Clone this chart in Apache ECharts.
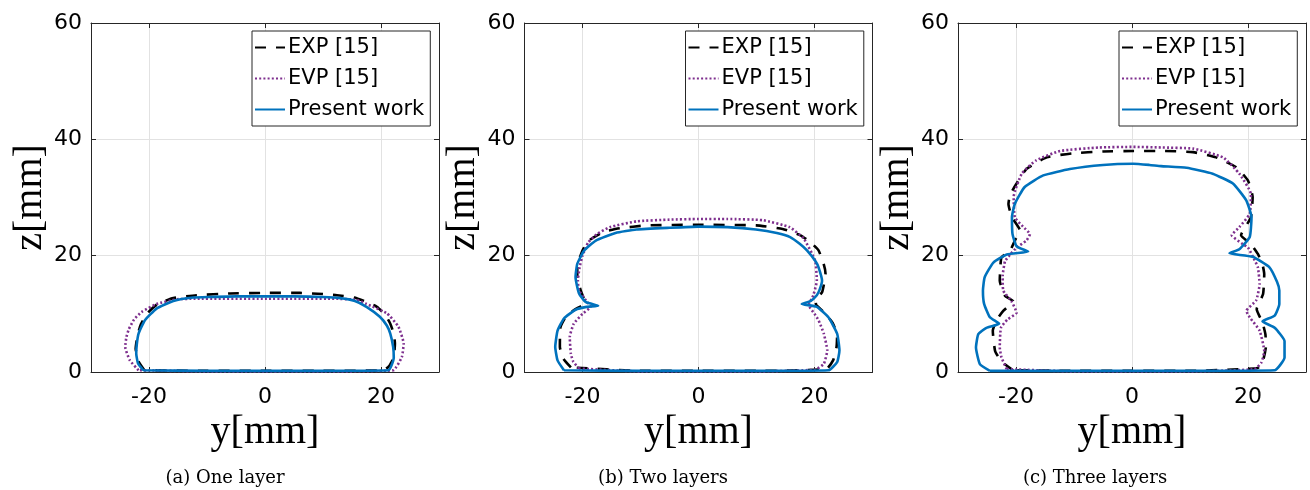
<!DOCTYPE html>
<html>
<head>
<meta charset="utf-8" />
<script src="https://cdn.jsdelivr.net/npm/echarts@6/dist/echarts.min.js"></script>
</head>
<body style="margin:0; background:#fff">
<div id="container" style="width:1310px; height:490px"></div>
<script>
// legend names, captions, ticks
var seriesNames = ['EXP [15]', 'EVP [15]', 'Present work'];
var captions = ['(a) One layer', '(b) Two layers', '(c) Three layers'];
var yTicks = [-20, 0, 20];

// contours [y, z] in mm
var exp1 = [[-20.8,0.3],[-21.8,1.8],[-22.3,4.0],[-22.0,6.2],[-21.4,8.2],[-20.2,10.2],[-18.5,11.7],[-15.8,12.7],[-11.8,13.2],[-6,13.5],[0,13.6],[6,13.6],[10,13.4],[12.4,13.2],[15.8,12.7],[19.3,11.2],[20.8,9.7],[21.6,8.3],[22.2,6.6],[22.4,4.9],[22.2,2.5],[21.4,1.0],[20.4,0.3],[10,0.2],[0,0.2],[-10,0.2],[-20.8,0.3]];
var evp1 = [[-21.8,0.3],[-23.3,2.0],[-24.1,4.3],[-23.9,6.0],[-23.5,7.3],[-22.6,9.0],[-21.3,10.3],[-18.7,11.7],[-15.2,12.5],[-12,12.6],[0,12.6],[12,12.6],[15.8,12.4],[17.5,11.7],[21.0,10.1],[23.0,7.8],[23.9,4.9],[23.6,2.6],[22.1,0.3],[10,0.1],[0,0.1],[-10,0.1],[-21.8,0.3]];
var pw1 = [[-21.0,0.3],[-21.9,1.5],[-22.2,3.2],[-22.1,4.8],[-21.8,6.6],[-20.7,8.9],[-18.7,10.9],[-15.8,12.2],[-12.4,12.8],[-9.5,12.9],[-5,13.0],[0,13.0],[5,13.0],[10,12.9],[13,12.7],[15.5,12.2],[17.5,11.2],[19.8,9.5],[21.0,8.0],[21.6,6.6],[22.1,4.3],[22.2,2.5],[21.8,1.1],[21.3,0.3],[10,0.2],[0,0.2],[-10,0.2],[-21.0,0.3]];

var exp2 = [[-22.0,0.8],[-23.3,2.3],[-23.9,4.3],[-23.8,7.7],[-22.8,9.6],[-21.2,10.8],[-19.6,11.8],[-19.8,12.7],[-20.3,14.0],[-20.9,16.5],[-20.9,18.1],[-20.0,20.9],[-18.9,22.6],[-16.3,24.1],[-13.6,24.7],[-9,25.2],[0,25.3],[9.9,25.2],[14.5,24.6],[17.6,23.5],[19.3,22.3],[20.7,20.9],[21.6,18.5],[21.9,16.9],[21.3,13.7],[20.2,12.3],[20.3,11.5],[21.6,10.3],[23.1,8.5],[23.9,6.3],[23.8,4.3],[23.2,2.0],[22.0,0.5],[10,0.2],[0,0.2],[-10,0.2],[-22.0,0.8]];
var evp2 = [[-20.6,0.6],[-21.6,1.8],[-22.0,3.1],[-22.2,6.0],[-21.5,8.3],[-20.0,10.0],[-18.6,11.2],[-19.4,12.3],[-20.6,14.0],[-20.8,15.7],[-20.5,18.0],[-20.0,20.0],[-19.0,22.3],[-17.5,23.7],[-15.3,24.9],[-10.7,25.9],[-5,26.2],[0,26.3],[5,26.3],[11.1,26.1],[15.7,24.9],[18.1,23.0],[20.1,19.2],[20.4,15.7],[19.8,13.2],[19.0,11.5],[20.0,10.0],[20.7,8.9],[21.6,6.6],[22.2,3.7],[21.6,1.4],[20.1,0.4],[10,0.1],[0,0.1],[-10,0.1],[-20.6,0.6]];
var pw2 = [[-23.2,0.3],[-24.3,2.0],[-24.7,4.3],[-24.3,7.1],[-23.2,9.2],[-21.2,10.7],[-19.3,11.2],[-17.3,11.4],[-19.4,12.0],[-20.6,13.5],[-21.2,16.3],[-20.9,18.6],[-19.7,20.9],[-17.7,22.6],[-14.3,23.9],[-10.7,24.5],[-5,24.8],[0,25.0],[5,24.9],[9.9,24.5],[13.5,23.9],[15.8,23.2],[17.5,22.0],[18.7,20.9],[20.2,19.0],[20.7,18.0],[21.3,15.7],[20.9,14.2],[20.4,13.2],[19.3,12.2],[17.8,11.7],[20.4,11.2],[22.4,9.4],[23.9,6.6],[24.3,3.7],[23.9,1.7],[22.4,0.3],[10,0.2],[0,0.2],[-10,0.2],[-23.2,0.3]];

var exp3 = [[-20.5,0.3],[-22.5,1.8],[-23.6,3.6],[-24.0,7.1],[-23.3,9.0],[-22.2,10.5],[-20.5,12.2],[-21.9,13.1],[-22.8,15.7],[-22.7,18.0],[-22.5,19.7],[-21.0,20.9],[-20.2,22.6],[-19.3,24.3],[-20.7,26.6],[-21.3,28.9],[-21.0,30.5],[-19.9,32.4],[-18.2,34.9],[-14.7,36.9],[-10.2,37.6],[-5,37.9],[0.2,38.0],[5,38.0],[10.5,37.8],[14.5,36.9],[18.0,35.2],[20.0,32.9],[20.8,30.1],[20.5,26.6],[18.8,23.5],[20.5,22.0],[21.7,20.3],[22.5,18.5],[22.8,16.8],[22.6,13.4],[21.5,10.8],[22.5,8.5],[23.0,6.5],[23.1,4.5],[22.6,2.0],[21.7,0.7],[10,0.2],[0,0.2],[-10,0.2],[-20.5,0.3]];
var evp3 = [[-21.6,0.5],[-22.5,2.5],[-22.8,4.2],[-22.6,7.6],[-21.5,9.0],[-19.9,10.2],[-20.8,12.2],[-22.2,14.0],[-22.3,16.5],[-21.9,19.0],[-21.0,20.2],[-19.9,21.4],[-18.2,22.6],[-17.6,23.7],[-18.8,25.0],[-20.2,26.6],[-20.4,30.1],[-19.0,34.1],[-16.5,36.4],[-12.4,38.0],[-5.6,38.6],[0.2,38.7],[5,38.6],[10.5,38.4],[15.7,36.9],[18.5,34.1],[20.5,30.6],[20.3,27.2],[18.5,24.9],[17.2,23.5],[19.1,22.0],[20.0,21.4],[21.0,19.5],[21.7,18.0],[22.0,15.1],[21.4,12.3],[19.7,10.5],[20.3,9.4],[22.0,7.1],[22.8,3.6],[22.3,1.6],[21.1,0.5],[10,0.1],[0,0.1],[-10,0.1],[-21.6,0.5]];
var pw3 = [[-24.5,0.2],[-26.2,1.3],[-26.9,4.2],[-26.5,6.5],[-25.1,7.6],[-22.9,8.3],[-24.5,9.4],[-25.5,11.7],[-25.7,14.0],[-25.4,16.3],[-23.9,18.8],[-21.6,20.2],[-17.9,20.7],[-19.9,21.6],[-20.6,23.7],[-20.7,26.6],[-20.2,28.9],[-18.5,31.8],[-15.3,33.8],[-10.7,34.9],[-5.0,35.6],[0.2,35.8],[3,35.6],[5,35.4],[9.4,35.1],[13.9,34.1],[17.4,32.4],[19.7,29.5],[20.6,26.6],[20.3,23.2],[18.5,21.1],[16.8,20.4],[20.8,19.8],[23.7,18.0],[25.0,15.5],[25.4,14.0],[25.4,11.7],[24.6,9.7],[22.5,8.7],[24.6,7.6],[26.3,5.3],[26.3,2.5],[24.6,0.3],[10,0.2],[0,0.2],[-10,0.2],[-24.5,0.2]];

var panels = [[exp1, evp1, pw1], [exp2, evp2, pw2], [exp3, evp3, pw3]];

var dom = document.getElementById('container');
var myChart = echarts.init(dom);

var gridLeft = [91, 524.5, 958];
var captionX = [225, 663, 1095];
var lineStyles = [
  { color: '#000000', type: [11, 10], width: 2.6 },
  { color: '#7E2F8E', type: [2, 2.2], width: 2.6 },
  { color: '#0072BD', type: 'solid', width: 2.6 }
];
var axisColor = '#262626';

var grids = [], xAxes = [], yAxes = [], series = [], legends = [], graphics = [];

for (var i = 0; i < 3; i++) {
  grids.push({ left: gridLeft[i], top: 23, width: 348, height: 349, containLabel: false });

  xAxes.push({
    gridIndex: i, type: 'value', min: -30, max: 30, position: 'bottom',
    name: 'y[mm]', nameLocation: 'middle', nameGap: 40,
    nameTextStyle: { fontFamily: 'Liberation Serif', fontSize: 40, color: '#000' },
    axisLine: { show: true, onZero: false, lineStyle: { color: axisColor, width: 1 } },
    axisTick: { show: true, inside: true, length: 5, customValues: yTicks, lineStyle: { color: axisColor } },
    axisLabel: { customValues: yTicks, margin: 14, fontFamily: 'DejaVu Sans', fontSize: 22, color: '#000' },
    splitLine: { show: true, lineStyle: { color: '#e2e2e2', width: 1 } }
  });
  xAxes.push({
    gridIndex: i, type: 'value', min: -30, max: 30, position: 'top',
    axisLine: { show: true, onZero: false, lineStyle: { color: axisColor, width: 1 } },
    axisTick: { show: true, inside: true, length: 5, customValues: yTicks, lineStyle: { color: axisColor } },
    axisLabel: { show: false },
    splitLine: { show: false }
  });
  yAxes.push({
    gridIndex: i, type: 'value', min: 0, max: 60, interval: 20, position: 'left',
    name: 'z[mm]', nameLocation: 'middle', nameRotate: 90, nameGap: 41,
    nameTextStyle: { fontFamily: 'Liberation Serif', fontSize: 40, color: '#000' },
    axisLine: { show: true, onZero: false, lineStyle: { color: axisColor, width: 1 } },
    axisTick: { show: true, inside: true, length: 5, lineStyle: { color: axisColor } },
    axisLabel: { margin: 9, fontFamily: 'DejaVu Sans', fontSize: 22, color: '#000' },
    splitLine: { show: true, lineStyle: { color: '#e2e2e2', width: 1 } }
  });
  yAxes.push({
    gridIndex: i, type: 'value', min: 0, max: 60, interval: 20, position: 'right',
    axisLine: { show: true, onZero: false, lineStyle: { color: axisColor, width: 1 } },
    axisTick: { show: true, inside: true, length: 5, lineStyle: { color: axisColor } },
    axisLabel: { show: false },
    splitLine: { show: false }
  });

  for (var s = 0; s < 3; s++) {
    series.push({
      name: seriesNames[s],
      type: 'line',
      xAxisIndex: 2 * i,
      yAxisIndex: 2 * i,
      data: panels[i][s],
      symbol: 'none',
      clip: false,
      smooth: 0.15,
      lineStyle: lineStyles[s],
      itemStyle: { color: lineStyles[s].color }
    });
  }

  legends.push({
    data: seriesNames,
    orient: 'vertical',
    left: gridLeft[i] + 161,
    top: 31,
    itemWidth: 30,
    itemHeight: 14,
    itemGap: 10,
    padding: [6, 6, 6, 2],
    backgroundColor: '#fff',
    borderColor: axisColor,
    borderWidth: 1,
    borderRadius: 0,
    selectedMode: false,
    itemStyle: { opacity: 0 },
    textStyle: { fontFamily: 'DejaVu Sans', fontSize: 21, color: '#000', padding: [0, 0, 0, -2] }
  });

  graphics.push({
    type: 'text',
    x: captionX[i],
    y: 478,
    style: {
      text: captions[i],
      align: 'center',
      verticalAlign: 'middle',
      font: '18px "DejaVu Serif"',
      fill: '#000'
    }
  });
}

var option = {
  animation: false,
  backgroundColor: '#fff',
  grid: grids,
  xAxis: xAxes,
  yAxis: yAxes,
  legend: legends,
  graphic: graphics,
  series: series
};

option && myChart.setOption(option);
</script>
</body>
</html>
